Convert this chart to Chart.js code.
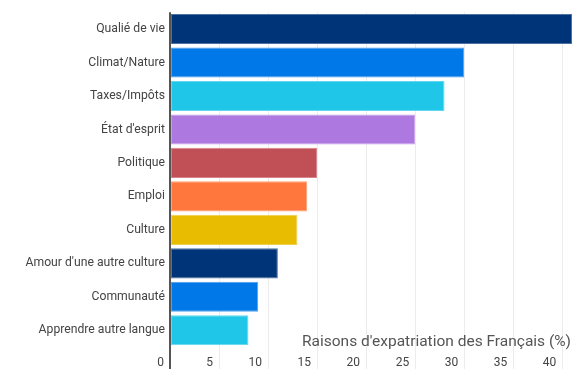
<!DOCTYPE html>
<html>
<head>
<meta charset="utf-8">
<script src="https://cdn.jsdelivr.net/npm/chart.js@4"></script>
<style>
    html, body { margin: 0; padding: 0; background: #fff; }
    #wrap { width: 585px; height: 380px; }
</style>
</head>
<body>
<div id="wrap"><canvas id="barChart"></canvas></div>
<script>
// Daten
const categories = ['Qualié de vie', 'Climat/Nature', 'Taxes/Impôts', "État d'esprit", 'Politique',
    'Emploi', 'Culture', "Amour d'une autre culture", 'Communauté', 'Apprendre autre langue'];
const values = [41, 30, 28, 25, 15, 14, 13, 11, 9, 8];
const chartTitle = "Raisons d'expatriation des Français (%)";

// Farben
const fillColors = ['#003478', '#0078e8', '#20c6e8', '#ad78e0', '#c05055',
    '#ff773d', '#e8bc00', '#003478', '#0078e8', '#20c6e8'];

function lighten(hex, amt) {
    const n = parseInt(hex.slice(1), 16);
    const r = (n >> 16) & 255, g = (n >> 8) & 255, b = n & 255;
    const mix = c => Math.round(c + (255 - c) * amt);
    return `rgb(${mix(r)},${mix(g)},${mix(b)})`;
}

const FONT = "Roboto, sans-serif";

// Titel unten rechts im Diagramm
const cornerTitle = {
    id: 'cornerTitle',
    afterDraw(chart) {
        const { ctx, chartArea } = chart;
        ctx.save();
        ctx.font = `15.5px ${FONT}`;
        ctx.fillStyle = '#555';
        ctx.textAlign = 'right';
        ctx.textBaseline = 'alphabetic';
        ctx.fillText(chartTitle, chartArea.right - 1, chartArea.bottom - 1);
        ctx.restore();
    }
};

new Chart(document.getElementById('barChart'), {
    type: 'bar',
    data: {
        labels: categories,
        datasets: [{
            data: values,
            backgroundColor: fillColors,
            borderColor: fillColors.map(c => lighten(c, 0.3)),
            borderWidth: 1,
            borderSkipped: false,
            barPercentage: 0.9,
            categoryPercentage: 1.0
        }]
    },
    options: {
        indexAxis: 'y',
        responsive: true,
        maintainAspectRatio: false,
        animation: false,
        layout: { padding: { top: 11, right: 13, bottom: 0, left: 0 } },
        plugins: {
            legend: { display: false },
            tooltip: { enabled: false }
        },
        scales: {
            x: {
                min: 0,
                max: Math.max(...values),
                afterFit(scale) { scale.height = 33; },
                grid: {
                    color: ctx => ctx.index === 0 ? '#555' : '#ececec',
                    lineWidth: ctx => ctx.index === 0 ? 2 : 1,
                    tickLength: 22
                },
                border: { display: false },
                ticks: {
                    stepSize: 5,
                    includeBounds: false,
                    align: 'end',
                    labelOffset: -6,
                    padding: -13,
                    color: '#444',
                    font: { family: FONT, size: 12 }
                }
            },
            y: {
                grid: { display: false, drawTicks: false },
                border: { display: false },
                afterFit(scale) { scale.width = 170; },
                ticks: {
                    padding: 5,
                    color: '#444',
                    font: { family: FONT, size: 12.2 }
                }
            }
        }
    },
    plugins: [cornerTitle]
});
</script>
</body>
</html>
